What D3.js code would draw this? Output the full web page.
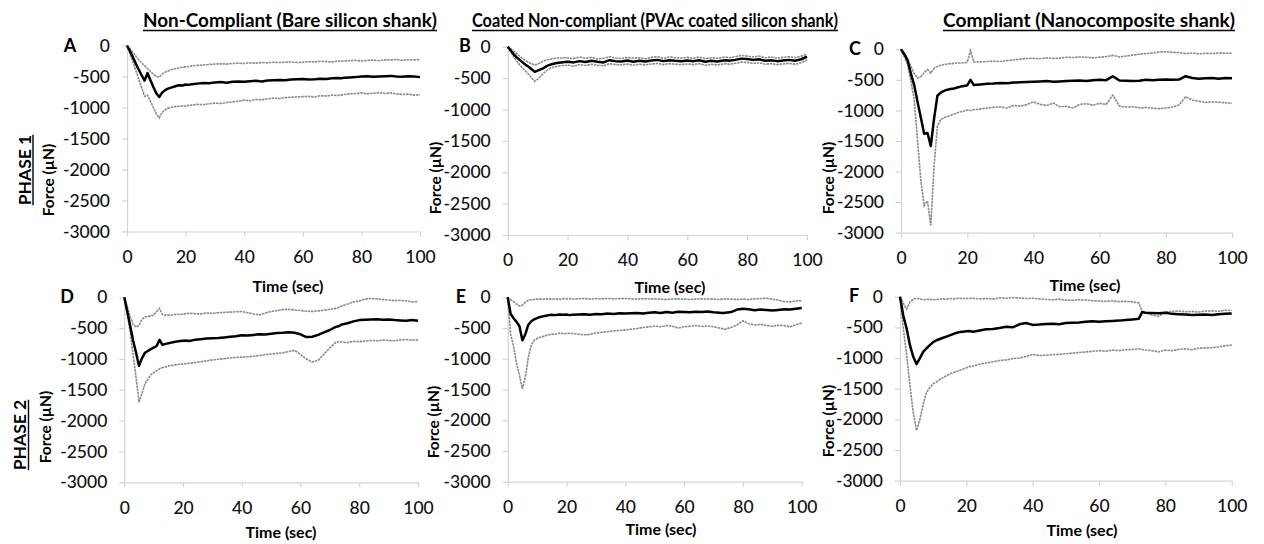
<!DOCTYPE html>
<html><head><meta charset="utf-8">
<script src="https://cdn.jsdelivr.net/npm/d3@7"></script>
<style>body{margin:0;background:#fff;} svg{display:block;font-family:Lato,"Open Sans",sans-serif;}</style>
</head><body><svg id="c" width="1264" height="544"></svg>
<script>
// ---- data ----
const time = [0,1,2,3,4,5,6,7,8,9,10,11,12,13,14,15,16,17,18,19,20,21,22,24,26,28,30,32,34,36,38,40,42,44,46,48,50,52,54,56,58,60,62,64,66,68,70,72,73,74,76,78,80,82,84,86,88,90,92,94,96,98,100];
const yTicks = [0,-500,-1000,-1500,-2000,-2500,-3000];
const xTicks = [0,20,40,60,80,100];
const columnTitles = ["Non-Compliant (Bare silicon shank)","Coated Non-compliant (PVAc coated silicon shank)","Compliant (Nanocomposite shank)"];
const phaseLabels = ["PHASE 1","PHASE 2"];
const panelLetters = ["A","B","C","D","E","F"];
const yLabel = "Force (µN)";
const xLabel = "Time (sec)";

const meanA = [0,-90,-190,-290,-390,-480,-565,-445,-560,-670,-770,-830,-760,-720,-695,-680,-665,-650,-640,-645,-630, -635,-625, -615,-605,-610,-595,-590,-600,-585,-580,-585, -575,-570,-580,-565,-560,-555,-560,-550,-545,-540, -550,-545,-535,-540,-530,-525, -530, -520,-515,-510,-500,-495,-505,-500,-495,-490,-500,-505,-495,-500,-510];
const upperA = [0,-50,-110,-170,-230,-280,-330,-370,-420,-460,-500,-510,-460,-430,-410,-390,-380,-370,-355,-350,-345, -340,-330, -320,-315,-305,-300,-295,-300,-290,-285,-290, -280,-285,-275,-280,-270,-275,-270,-265,-275,-270, -260,-265,-255,-260,-265,-250, -255, -250,-245,-240,-250,-240,-235,-245,-230,-235,-225,-240,-230,-235,-225];
const lowerA = [0,-130,-260,-400,-540,-680,-820,-800,-900,-1000,-1100,-1170,-1080,-1040,-1010,-1000,-990,-980,-985,-970,-980, -965,-960, -950,-955,-940,-930,-935,-920,-910,-900,-880, -890,-870,-875,-860,-850,-855,-840,-835,-830,-825, -820,-830,-810,-815,-800,-805, -800, -790,-780,-775,-765,-780,-770,-760,-775,-765,-780,-790,-785,-800,-795];

const meanB = [0,-60,-120,-170,-210,-250,-290,-320,-360,-400,-380,-360,-340,-310,-290,-275,-265,-255,-250,-245,-240, -245,-250, -230,-245,-225,-240,-250,-215,-230,-235,-220, -240,-225,-235,-220,-210,-230,-215,-225,-230,-220, -230,-215,-240,-225,-235,-220, -215, -225,-210,-190,-195,-210,-200,-225,-215,-230,-220,-210,-225,-200,-160];
const upperB = [0,-30,-70,-110,-150,-190,-220,-250,-270,-290,-280,-250,-230,-210,-200,-190,-185,-180,-180,-175,-180, -185,-190, -165,-185,-170,-195,-185,-160,-180,-190,-170, -185,-175,-195,-170,-160,-185,-165,-175,-180,-170, -185,-165,-190,-175,-185,-170, -165, -175,-160,-140,-150,-165,-150,-175,-165,-180,-170,-160,-175,-150,-120];
const lowerB = [0,-80,-160,-230,-290,-340,-390,-440,-500,-550,-520,-470,-420,-380,-350,-330,-320,-310,-300,-300,-295, -300,-310, -285,-300,-280,-295,-305,-270,-285,-290,-275, -295,-280,-290,-275,-265,-285,-270,-280,-285,-275, -285,-270,-295,-280,-290,-275, -270, -280,-265,-245,-250,-265,-255,-280,-270,-285,-275,-265,-280,-255,-210];

const meanC = [0,-80,-180,-400,-590,-860,-1120,-1380,-1370,-1580,-1130,-760,-710,-680,-660,-650,-640,-625,-610,-600,-590, -500,-585, -575,-565,-560,-550,-555,-545,-540,-535,-530, -525,-520,-530,-525,-520,-515,-510,-520,-505,-500, -505,-440,-510,-515,-520,-515, -505, -500,-505,-500,-495,-500,-495,-440,-470,-480,-475,-470,-480,-470,-475];
const upperC = [0,-60,-160,-280,-400,-470,-450,-380,-330,-390,-310,-280,-260,-250,-240,-235,-230,-225,-225,-220,-215, -20,-210, -205,-200,-195,-200,-185,-175,-160,-150,-148, -155,-140,-150,-145,-130,-135,-125,-130,-140,-130, -120,-100,-125,-110,-95,-80, -75, -70,-60,-45,-40,-50,-55,-70,-60,-75,-65,-70,-60,-65,-65];
const lowerC = [0,-120,-250,-520,-820,-1500,-2150,-2560,-2480,-2880,-1900,-1260,-1150,-1120,-1100,-1080,-1060,-1040,-1020,-1010,-995, -1000,-990, -975,-960,-950,-940,-960,-920,-930,-905,-860, -900,-920,-880,-940,-935,-960,-900,-890,-915,-885, -900,-750,-930,-945,-940,-955, -960, -950,-965,-970,-960,-945,-910,-775,-830,-850,-870,-860,-865,-875,-885];

const meanD = [0,-230,-460,-700,-900,-1110,-990,-900,-870,-840,-815,-790,-690,-770,-755,-745,-735,-725,-715,-710,-705, -700,-710, -690,-680,-670,-665,-660,-650,-640,-630,-615, -620,-610,-600,-605,-590,-580,-575,-565,-575,-600, -645,-640,-610,-570,-530,-480, -470, -440,-420,-390,-370,-365,-360,-355,-365,-360,-370,-375,-380,-370,-380];
const upperD = [0,-150,-310,-440,-480,-460,-360,-320,-310,-300,-290,-230,-180,-280,-290,-285,-290,-280,-275,-280,-270, -265,-260, -265,-270,-255,-260,-250,-245,-240,-235,-230, -250,-270,-285,-255,-230,-215,-200,-195,-205,-215, -225,-230,-220,-210,-195,-180, -165, -140,-110,-75,-60,-30,-20,-25,-35,-45,-55,-50,-60,-75,-70];
const lowerD = [0,-250,-560,-940,-1300,-1700,-1560,-1410,-1330,-1260,-1220,-1190,-1160,-1140,-1130,-1115,-1105,-1100,-1090,-1085,-1080, -1075,-1070, -1060,-1045,-1030,-1015,-1005,-995,-985,-975,-970, -965,-955,-945,-930,-920,-910,-900,-880,-860,-930, -1000,-1050,-1020,-920,-820,-730, -720, -725,-735,-715,-720,-710,-700,-705,-695,-700,-705,-690,-685,-695,-690];

const meanE = [0,-270,-340,-400,-470,-700,-600,-450,-390,-360,-340,-320,-310,-300,-290,-285,-290,-285,-280,-285,-280, -290,-285, -280,-275,-285,-270,-275,-265,-270,-260,-265, -260,-255,-265,-250,-245,-255,-240,-250,-235,-240, -245,-235,-240,-230,-245,-250, -255, -250,-240,-200,-185,-195,-210,-200,-205,-215,-205,-195,-200,-185,-175];
const upperE = [0,-40,-70,-110,-140,-130,-80,-50,-40,-35,-30,-30,-28,-30,-25,-30,-28,-25,-30,-20,-25, -22,-28, -25,-20,-30,-22,-25,-18,-25,-22,-20, -25,-30,-22,-28,-25,-30,-35,-28,-25,-30, -35,-30,-25,-28,-30,-35, -30, -25,-30,-35,-30,-35,-25,-20,-15,-30,-45,-70,-75,-60,-55];
const lowerE = [0,-600,-800,-1070,-1270,-1490,-1300,-980,-780,-700,-670,-650,-640,-620,-610,-600,-605,-590,-580,-595,-590, -585,-590, -600,-610,-605,-580,-570,-560,-545,-540,-530, -520,-510,-490,-480,-470,-480,-460,-470,-500,-480, -470,-460,-475,-465,-480,-500, -510, -520,-490,-450,-380,-430,-450,-440,-460,-470,-455,-460,-480,-450,-420];

const meanF = [0,-310,-520,-790,-980,-1100,-1000,-900,-840,-790,-740,-710,-690,-670,-650,-630,-610,-590,-575,-570,-565, -560,-570, -550,-530,-525,-510,-490,-500,-450,-430,-460, -455,-445,-440,-450,-430,-425,-420,-410,-400,-410, -400,-395,-390,-380,-370,-360, -250, -260,-265,-270,-260,-280,-285,-290,-300,-295,-290,-300,-285,-280,-275];
const upperF = [0,-110,-200,-90,-40,-30,-35,-50,-45,-40,-50,-45,-40,-35,-40,-30,-35,-30,-25,-30,-28, -30,-25, -35,-30,-40,-20,-25,-15,-20,-30,-25, -35,-45,-50,-40,-55,-60,-50,-55,-65,-70, -75,-70,-80,-75,-85,-100, -240, -260,-300,-320,-250,-240,-235,-245,-240,-250,-235,-230,-240,-220,-225];
const lowerF = [0,-520,-950,-1450,-1900,-2180,-2000,-1750,-1560,-1480,-1420,-1390,-1350,-1320,-1290,-1260,-1240,-1220,-1200,-1180,-1160, -1140,-1130, -1100,-1080,-1060,-1040,-1030,-1010,-1000,-975,-940, -960,-955,-945,-940,-930,-920,-910,-900,-890,-880, -890,-870,-880,-865,-860,-850, -860, -870,-880,-900,-870,-880,-860,-850,-865,-840,-835,-830,-820,-800,-790];

// ---- layout ----
const panels = [
  {letter:panelLetters[0], mean:meanA, upper:upperA, lower:lowerA, box:[127,420,45.5,231.5], lt:[70,46], fl:[54,180], tl:null},
  {letter:panelLetters[1], mean:meanB, upper:upperB, lower:lowerB, box:[507.7,807,46.7,235], lt:[465,46], fl:[441,178], tl:null},
  {letter:panelLetters[2], mean:meanC, upper:upperC, lower:lowerC, box:[901,1232,49.3,232.7], lt:[855,49], fl:[834,178], tl:null},
  {letter:panelLetters[3], mean:meanD, upper:upperD, lower:lowerD, box:[124.3,418,297.3,482.3], lt:[67,297], fl:[51,427], tl:[281,532]},
  {letter:panelLetters[4], mean:meanE, upper:upperE, lower:lowerE, box:[507.7,801.7,297.3,481.7], lt:[461,297], fl:[439,422], tl:[661,529]},
  {letter:panelLetters[5], mean:meanF, upper:upperF, lower:lowerF, box:[900,1231.7,296.7,480.7], lt:[854,296], fl:[834,421], tl:[1082,530]}
];
const topTimeLabels = [[288,286],[670,287],[1085,285]];
const titlePos = [[143,437],[472,838],[943,1235]];

const svg = d3.select("#c");
const axisColor = "#d4d4d4";

panels.forEach(p => {
  const [x0,x1,y0,y1] = p.box;
  const x = d3.scaleLinear().domain([0,100]).range([x0,x1]);
  const y = d3.scaleLinear().domain([-3000,0]).range([y1,y0]);
  const g = svg.append("g");
  const ya = g.append("g").attr("transform",`translate(${x0},0)`)
    .call(d3.axisLeft(y).tickValues(yTicks).tickSize(5).tickSizeOuter(0).tickPadding(12).tickFormat(d=>String(d)));
  const xa = g.append("g").attr("transform",`translate(0,${y1})`)
    .call(d3.axisBottom(x).tickValues(xTicks).tickSize(5).tickSizeOuter(0).tickPadding(14).tickFormat(d=>String(d)));
  [ya,xa].forEach(a=>{
    a.select(".domain").attr("stroke",axisColor).attr("stroke-width",1.2);
    a.selectAll(".tick line").attr("stroke",axisColor).attr("stroke-width",1.2);
    a.selectAll(".tick text").attr("fill","#111").style("font-size","17.5px").style("font-family","Lato").style("font-weight","500");
  });
  const line = d3.line().x((d,i)=>x(time[i])).y(d=>y(d));
  [p.upper,p.lower].forEach(s=>{
    g.append("path").datum(s).attr("d",line).attr("fill","none")
      .attr("stroke","#8a8a8a").attr("stroke-width",1.6).attr("stroke-dasharray","2.5,0.8");
  });
  g.append("path").datum(p.mean).attr("d",line).attr("fill","none")
    .attr("stroke","#000").attr("stroke-width",2.5).attr("stroke-linejoin","round");
  // panel letter
  g.append("text").attr("x",p.lt[0]).attr("y",p.lt[1]).attr("dy","0.36em").attr("text-anchor","middle")
    .style("font-size","18px").style("font-weight","bold").text(p.letter);
  // y label
  g.append("text").attr("transform",`translate(${p.fl[0]},${p.fl[1]}) rotate(-90)`)
    .attr("text-anchor","middle").style("font-size","15.5px").style("font-weight","bold").text(yLabel);
  if (p.tl) g.append("text").attr("x",p.tl[0]).attr("y",p.tl[1]).attr("dy","0.36em").attr("text-anchor","middle")
    .style("font-size","16px").style("font-weight","bold").text(xLabel);
});

topTimeLabels.forEach(t=>{
  svg.append("text").attr("x",t[0]).attr("y",t[1]).attr("dy","0.36em").attr("text-anchor","middle")
    .style("font-size","16px").style("font-weight","bold").text(xLabel);
});

columnTitles.forEach((t,i)=>{
  const [a,b] = titlePos[i];
  svg.append("text").attr("x",a).attr("y",27).attr("textLength",b-a).attr("lengthAdjust","spacingAndGlyphs")
    .style("font-size","19px").style("font-weight","bold").text(t);
  svg.append("line").attr("x1",a).attr("x2",b).attr("y1",30.5).attr("y2",30.5).attr("stroke","#000").attr("stroke-width",1.4);
});

const phasePos = [[30.5,170],[26,435]];
phaseLabels.forEach((t,i)=>{
  const [px,py] = phasePos[i];
  const txt = svg.append("text").attr("transform",`translate(${px},${py}) rotate(-90)`)
    .attr("text-anchor","middle").style("font-size","17.5px").style("font-weight","bold").text(t);
  const w = txt.node().getComputedTextLength();
  svg.append("line").attr("x1",px+2.5).attr("x2",px+2.5).attr("y1",py-w/2).attr("y2",py+w/2)
    .attr("stroke","#000").attr("stroke-width",1.4);
});
</script></body></html>
